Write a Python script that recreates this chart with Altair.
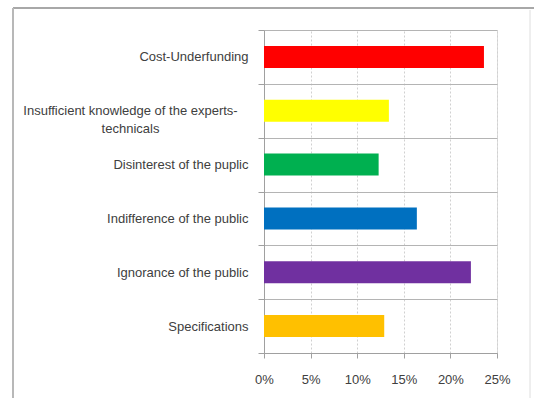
import altair as alt
import pandas as pd

categories = [
    "Cost-Underfunding",
    "Insufficient knowledge of the experts-technicals",
    "Disinterest of the puplic",
    "Indifference of the public",
    "Ignorance of the public",
    "Specifications",
]
values = [0.236, 0.134, 0.123, 0.164, 0.222, 0.129]
colors = ["#FF0000", "#FFFF00", "#00B050", "#0070C0", "#7030A0", "#FFC000"]
x_ticks = [0, 0.05, 0.10, 0.15, 0.20, 0.25]

df = pd.DataFrame({"cat": categories, "val": values, "col": colors})

FONT = "'Liberation Sans Narrow', 'Liberation Sans', sans-serif"
WRAP = categories[1]

y_enc = alt.Y(
    "cat:N",
    sort=categories,
    title=None,
    scale=alt.Scale(paddingInner=0, paddingOuter=0),
    axis=alt.Axis(
        tickBand="extent",
        grid=True,
        gridColor="#b4b4b4",
        gridWidth=1,
        domainColor="#a0a0a0",
        tickColor="#a0a0a0",
        tickSize=6,
        labelFont=FONT,
        labelFontSize=13,
        labelColor="#404040",
        labelLimit=400,
        labelAlign=alt.condition(f"datum.value == '{WRAP}'", alt.value("center"), alt.value("right")),
        labelPadding=alt.condition(f"datum.value == '{WRAP}'", alt.value(128), alt.value(10)),
        labelExpr=f"datum.value == '{WRAP}' ? ['Insufficient knowledge of the experts-', 'technicals'] : datum.label",
        labelLineHeight=18,
    ),
)

bars = alt.Chart(df).mark_bar(size=22).encode(
    x=alt.X(
        "val:Q",
        title=None,
        scale=alt.Scale(domain=[0, 0.25], nice=False),
        axis=alt.Axis(
            format=".0%",
            values=x_ticks,
            grid=True,
            gridColor="#d0d0d0",
            gridDash=[2, 2],
            domainColor="#a0a0a0",
            tickColor="#a0a0a0",
            tickSize=5,
            labelFlush=False,
            labelFont=FONT,
            labelFontSize=13,
            labelColor="#404040",
            labelPadding=15,
        ),
    ),
    y=y_enc,
    color=alt.Color("col:N", scale=None, legend=None),
)

frame_top = alt.Chart(df).mark_rule(color="#a8a8a8", strokeWidth=2).encode(
    x=alt.value(-251), x2=alt.value(270), y=alt.value(-22)
)
frame_left = alt.Chart(df).mark_rule(color="#b8b8b8", strokeWidth=2).encode(
    x=alt.value(-251), y=alt.value(-22), y2=alt.value(370)
)
frame_right = alt.Chart(df).mark_rule(color="#eeeeee", strokeWidth=1).encode(
    x=alt.value(266), y=alt.value(-20), y2=alt.value(370)
)

chart = alt.layer(bars, frame_top, frame_left, frame_right).properties(
    width=233,
    height=323,
    autosize=alt.AutoSizeParams(type="none"),
    padding={"left": 264, "top": 30, "right": 37, "bottom": 45},
).configure_view(stroke=None).configure(background="white")

chart.save("out.html", embed_options={"renderer": "svg", "actions": False})
